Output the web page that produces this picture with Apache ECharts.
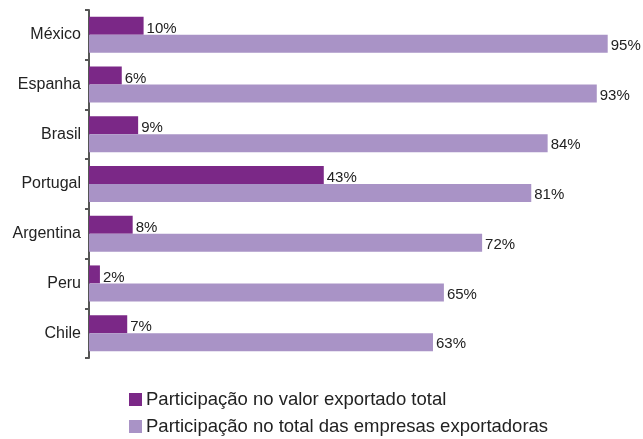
<!DOCTYPE html>
<html>
<head>
<meta charset="utf-8">
<script src="https://cdn.jsdelivr.net/npm/echarts@6/dist/echarts.min.js"></script>
<style>
  html, body { margin: 0; padding: 0; background: #fff; }
  #chart { width: 643px; height: 439px; }
</style>
</head>
<body>
<div id="chart"></div>
<script>
// Countries, listed top to bottom
const countries = ['México', 'Espanha', 'Brasil', 'Portugal', 'Argentina', 'Peru', 'Chile'];
// Share of total exported value (%)
const valorExportado = [10, 6, 9, 43, 8, 2, 7];
// Share of total exporting companies (%)
const empresasExportadoras = [95, 93, 84, 81, 72, 65, 63];

const seriesNames = ['Participação no valor exportado total', 'Participação no total das empresas exportadoras'];
const colors = ['#7B2887', '#A993C6'];
const font = 'Liberation Sans, Arial, sans-serif';

const chart = echarts.init(document.getElementById('chart'));
const labelStyle = (dy) => ({
  show: true,
  position: 'right',
  distance: 3,
  offset: [0, dy],
  formatter: '{c}%',
  color: '#222',
  fontFamily: font,
  fontSize: 15
});

// One legend block per row, stacked below the plot
const legendRow = (name, top) => ({
  orient: 'vertical',
  left: 129,
  top: top,
  padding: 0,
  itemWidth: 13,
  itemHeight: 13,
  itemGap: 4,
  icon: 'rect',
  textStyle: { color: '#222', fontFamily: font, fontSize: 18.5, padding: [0, 0, 0, -1] },
  data: [name]
});

chart.setOption({
  animation: false,
  color: colors,
  grid: { left: 89, right: 8, top: 10, bottom: 81, containLabel: false },
  xAxis: {
    type: 'value',
    min: 0,
    max: 100,
    show: false
  },
  yAxis: {
    type: 'category',
    data: countries,
    inverse: true,
    axisLine: { show: true, lineStyle: { color: '#555', width: 2 } },
    axisTick: { show: true, inside: false, length: 4, lineStyle: { color: '#555', width: 2 } },
    axisLabel: {
      color: '#222',
      fontFamily: font,
      fontSize: 16,
      margin: 8
    },
    splitLine: { show: false }
  },
  legend: [
    legendRow(seriesNames[0], 390),
    legendRow(seriesNames[1], 417)
  ],
  series: [
    {
      name: seriesNames[0],
      type: 'bar',
      data: valorExportado,
      barWidth: 18,
      barGap: '0%',
      barCategoryGap: '28%',
      label: labelStyle(3),
      itemStyle: { color: colors[0] }
    },
    {
      name: seriesNames[1],
      type: 'bar',
      data: empresasExportadoras,
      barWidth: 18,
      barGap: '0%',
      label: labelStyle(2),
      itemStyle: { color: colors[1] }
    }
  ]
});
</script>
</body>
</html>
